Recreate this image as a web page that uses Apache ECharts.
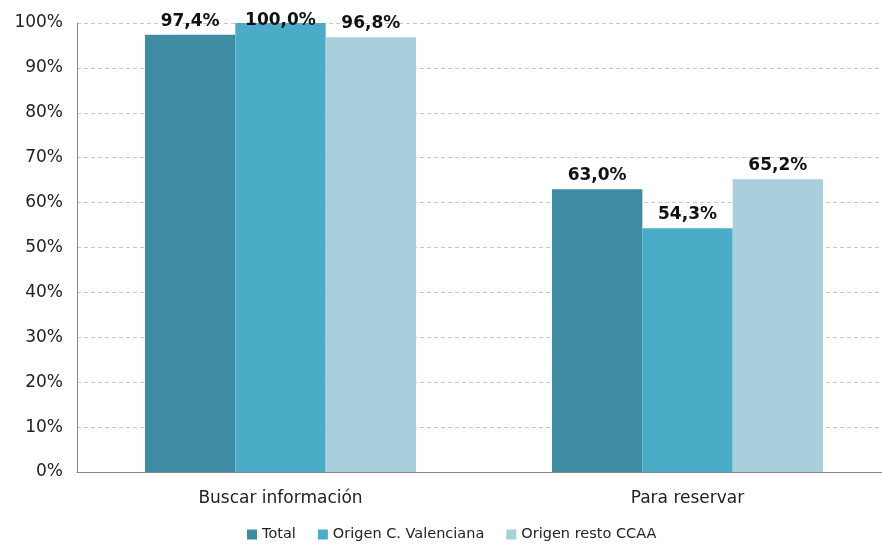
<!DOCTYPE html>
<html>
<head>
<meta charset="utf-8">
<script src="https://cdn.jsdelivr.net/npm/echarts@6/dist/echarts.min.js"></script>
<style>
html, body { margin: 0; padding: 0; background: #fff; }
#chart { width: 882px; height: 545px; }
</style>
</head>
<body>
<div id="chart"></div>
<script>
const categories = ['Buscar información', 'Para reservar'];
const total = [97.4, 63.0];
const valenciana = [100.0, 54.3];
const restoCCAA = [96.8, 65.2];
const yTicks = [0, 10, 20, 30, 40, 50, 60, 70, 80, 90, 100];

let chart = echarts.init(document.querySelector('#chart'));

const fmt = v => v.toFixed(1).replace('.', ',') + '%';

// labels on full bars get pushed down into the plot, like the original
function barData(values) {
    return values.map(v => v >= 100 ? { value: v, label: { offset: [0, 11] } } : v);
}

function barSeries(name, data, color) {
    return {
        name: name,
        type: 'bar',
        data: barData(data),
        barGap: '0%',
        barCategoryGap: '33.4%',
        itemStyle: { color: color },
        label: {
            show: true,
            position: 'top',
            distance: 5,
            formatter: p => fmt(p.value),
            fontFamily: 'DejaVu Sans',
            fontWeight: 'bold',
            fontSize: 17,
            color: '#111'
        }
    };
}

let option = {
    animation: false,
    textStyle: { fontFamily: 'DejaVu Sans' },
    grid: { left: 77, right: -9, top: 23, bottom: 73, outerBoundsMode: 'none' },
    legend: {
        bottom: -2,
        left: 242,
        itemWidth: 10,
        itemHeight: 10,
        itemGap: 22,
        icon: 'rect',
        textStyle: { fontSize: 14.5, color: '#222', fontFamily: 'DejaVu Sans' },
        data: ['Total', 'Origen C. Valenciana', 'Origen resto CCAA']
    },
    xAxis: {
        type: 'category',
        data: categories,
        axisLine: { lineStyle: { color: '#888' } },
        axisTick: { show: false },
        axisLabel: { fontSize: 17, color: '#222', margin: 18 }
    },
    yAxis: {
        type: 'value',
        min: yTicks[0],
        max: yTicks[yTicks.length - 1],
        interval: 10,
        axisLine: { show: true, lineStyle: { color: '#888' } },
        axisTick: { show: false },
        axisLabel: { fontSize: 17, color: '#222', margin: 14, formatter: '{value}%' },
        splitLine: { lineStyle: { color: '#c8c8c8', type: [4, 3] } }
    },
    series: [
        barSeries('Total', total, '#3d8ca2'),
        barSeries('Origen C. Valenciana', valenciana, '#4aacc6'),
        barSeries('Origen resto CCAA', restoCCAA, '#a9cfdd')
    ]
};
chart.setOption(option);
</script>
</body>
</html>
